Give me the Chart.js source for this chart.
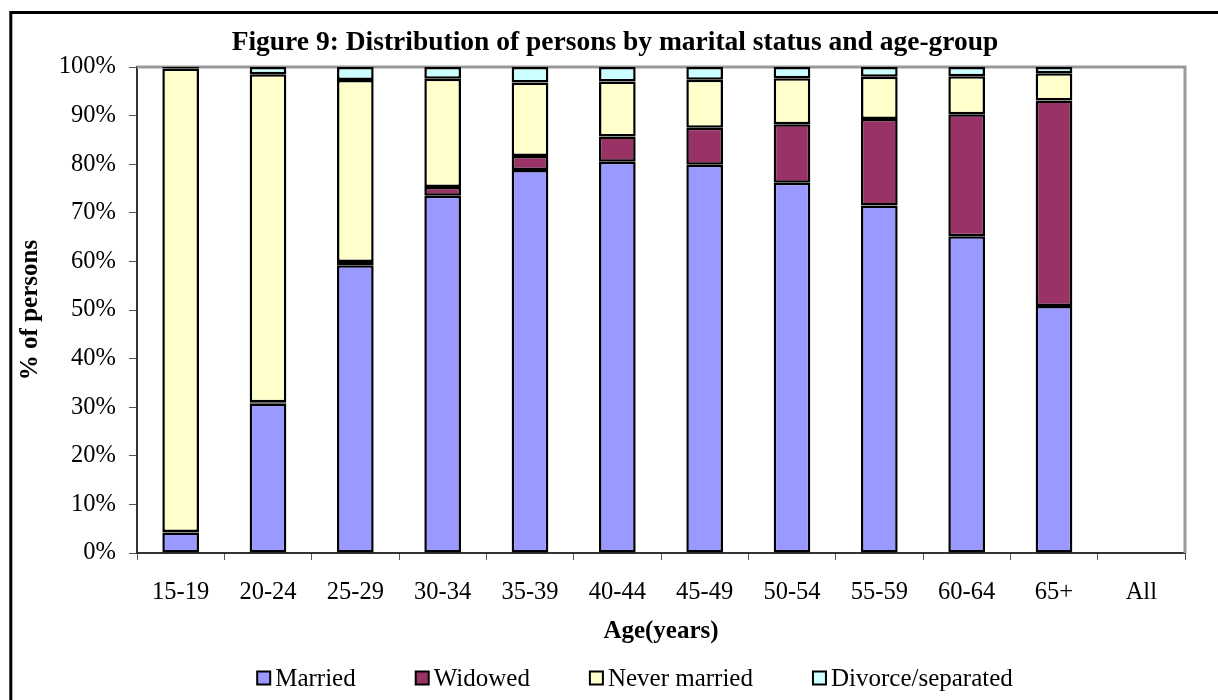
<!DOCTYPE html>
<html>
<head>
<meta charset="utf-8">
<script src="https://cdn.jsdelivr.net/npm/chart.js@4.4.0/dist/chart.umd.min.js"></script>
<style>
  html, body { margin: 0; padding: 0; background: #fff; }
  #wrap { width: 1218px; height: 700px; }
</style>
</head>
<body>
<div id="wrap"><canvas id="maritalChart" width="1218" height="700"></canvas></div>
<script>
// Figure 9 - marital status by age group (stacked 100% bars)

const chartTitle = 'Figure 9: Distribution of persons by marital status and age-group';
const ageGroups = ['15-19', '20-24', '25-29', '30-34', '35-39', '40-44', '45-49', '50-54', '55-59', '60-64', '65+', 'All'];

const married       = [4.2, 30.7, 59.2, 73.5, 78.8, 80.5, 79.9, 76.2, 71.5, 65.2, 50.8, null];
const widowed       = [0.1, 0.3, 0.7, 1.8, 2.9, 5.2, 7.6, 12.0, 17.8, 25.1, 42.3, null];
const neverMarried  = [95.4, 67.5, 37.4, 22.3, 15.1, 11.3, 9.9, 9.5, 8.7, 7.8, 5.6, null];
const divorced      = [0.3, 1.5, 2.7, 2.4, 3.2, 3.0, 2.6, 2.3, 2.0, 1.9, 1.3, null];

const yTicks = [0, 10, 20, 30, 40, 50, 60, 70, 80, 90, 100];

const colors = {
    married: '#9999ff',
    widowed: '#993366',
    never: '#ffffcc',
    divorced: '#ccffff',
    frame: '#999999',
    text: '#000000'
};

const serif = '"Liberation Serif", "Times New Roman", serif';
Chart.defaults.font.family = serif;
Chart.defaults.color = colors.text;

function barSet(label, data, color) {
    return {
        label: label,
        data: data,
        backgroundColor: color,
        borderColor: '#000',
        borderWidth: 2.5,
        borderSkipped: false,
        barPercentage: 0.42,
        categoryPercentage: 1.0
    };
}

// title, outer box, plot frame and legend
const decorPlugin = {
    id: 'decor',
    beforeDatasetsDraw(chart) {
        const { ctx, chartArea: a } = chart;
        ctx.save();
        ctx.strokeStyle = colors.frame;
        ctx.lineWidth = 3;
        ctx.beginPath();
        ctx.moveTo(a.left, a.top);
        ctx.lineTo(a.right, a.top);
        ctx.lineTo(a.right, a.bottom);
        ctx.stroke();
        ctx.restore();
    },
    afterDraw(chart) {
        const ctx = chart.ctx;
        ctx.save();
        // outer border (clipped at right/bottom in the original)
        ctx.strokeStyle = '#000';
        ctx.lineWidth = 3;
        ctx.beginPath();
        ctx.moveTo(10.8, 720);
        ctx.lineTo(10.8, 12.5);
        ctx.lineTo(1240, 12.5);
        ctx.stroke();

        // title
        ctx.fillStyle = colors.text;
        ctx.font = 'bold 27.5px ' + serif;
        ctx.textAlign = 'center';
        ctx.textBaseline = 'middle';
        ctx.fillText(chartTitle, 615, 43);

        // legend
        ctx.font = '25px ' + serif;
        ctx.textAlign = 'left';
        const box = 13, gap = 5, spacing = 60;
        const items = chart.data.datasets.map(ds => ({
            label: ds.label,
            color: ds.backgroundColor,
            w: box + gap + ctx.measureText(ds.label).width
        }));
        const total = items.reduce((s, it) => s + it.w, 0) + spacing * (items.length - 1);
        let x = 635 - total / 2;
        const y = 678;
        items.forEach(it => {
            ctx.fillStyle = it.color;
            ctx.fillRect(x, y - box / 2, box, box);
            ctx.strokeStyle = '#000';
            ctx.lineWidth = 2;
            ctx.strokeRect(x, y - box / 2, box, box);
            ctx.fillStyle = colors.text;
            ctx.fillText(it.label, x + box + gap, y + 1);
            x += it.w + spacing;
        });
        ctx.restore();
    }
};

new Chart(document.getElementById('maritalChart'), {
    type: 'bar',
    data: {
        labels: ageGroups,
        datasets: [
            barSet('Married', married, colors.married),
            barSet('Widowed', widowed, colors.widowed),
            barSet('Never married', neverMarried, colors.never),
            barSet('Divorce/separated', divorced, colors.divorced)
        ]
    },
    options: {
        responsive: false,
        animation: false,
        layout: {
            padding: { left: 12, right: 33, top: 67, bottom: 47 }
        },
        plugins: {
            legend: { display: false },
            title: { display: false },
            tooltip: { enabled: false }
        },
        scales: {
            x: {
                stacked: true,
                afterFit: (s) => { s.height = 100; },
                grid: {
                    offset: true,
                    drawOnChartArea: false,
                    drawTicks: true,
                    tickLength: 7,
                    color: '#555'
                },
                border: { display: true, color: '#333', width: 2 },
                ticks: {
                    font: { size: 24.5 },
                    color: colors.text,
                    padding: 18,
                    maxRotation: 0,
                    autoSkip: false
                },
                title: {
                    display: true,
                    text: 'Age(years)',
                    font: { size: 25, weight: 'bold' },
                    color: colors.text,
                    padding: { top: 4, bottom: 6 }
                }
            },
            y: {
                stacked: true,
                min: 0,
                max: 100,
                afterFit: (s) => { s.width = 125; },
                afterBuildTicks: (s) => { s.ticks = yTicks.map(v => ({ value: v })); },
                grid: {
                    drawOnChartArea: false,
                    drawTicks: true,
                    tickLength: 8,
                    color: '#555'
                },
                border: { display: true, color: '#333', width: 2 },
                ticks: {
                    font: { size: 24.5 },
                    color: colors.text,
                    padding: 13,
                    callback: (v) => v + '%'
                },
                title: {
                    display: true,
                    text: '% of persons',
                    font: { size: 25, weight: 'bold' },
                    color: colors.text,
                    padding: { top: 4, bottom: 4 }
                }
            }
        }
    },
    plugins: [decorPlugin]
});
</script>
</body>
</html>
